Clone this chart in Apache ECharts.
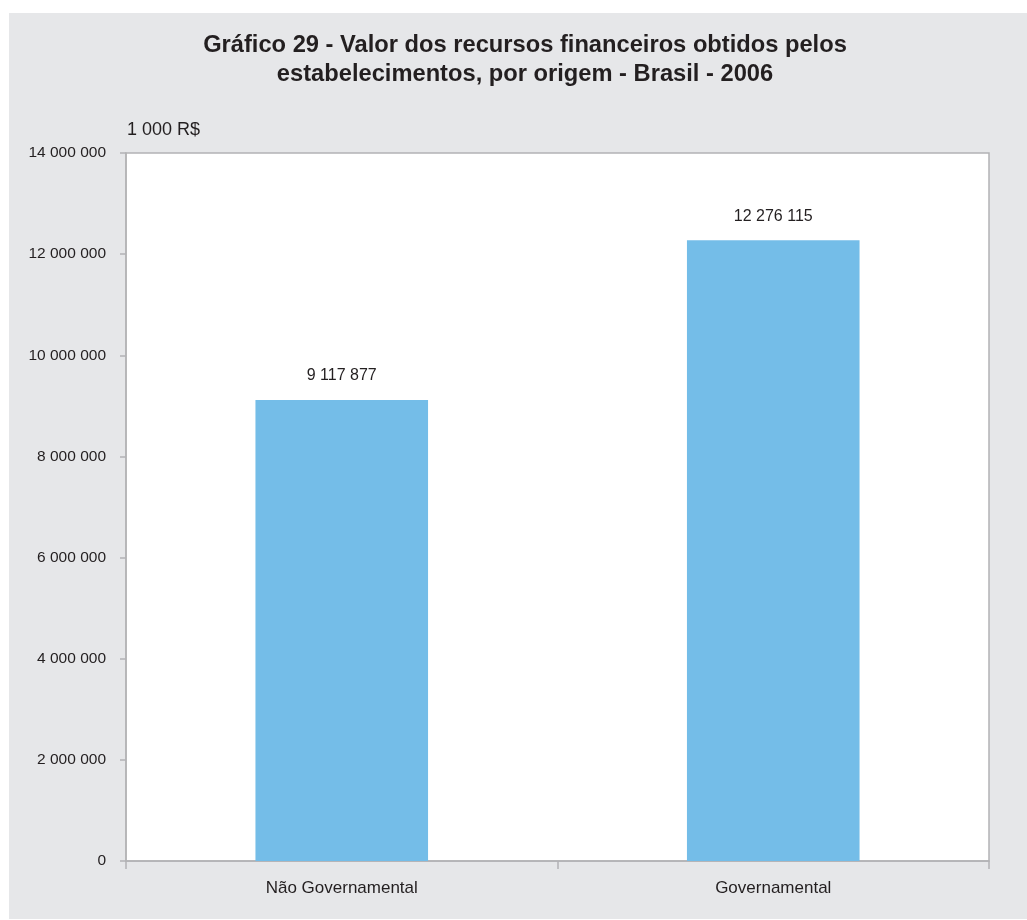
<!DOCTYPE html>
<html>
<head>
<meta charset="utf-8">
<script src="https://cdn.jsdelivr.net/npm/echarts@6/dist/echarts.min.js"></script>
<style>
  html, body { margin: 0; padding: 0; background: #fff; }
  #chart {
    position: absolute;
    left: 9px;
    top: 13px;
    width: 1018px;
    height: 906px;
    background: #e6e7e9;
  }
</style>
</head>
<body>
<div id="chart"></div>
<script>
// dados
const categories = ['Não Governamental', 'Governamental'];
const values = [9117877, 12276115];
const titleLines = [
  'Gráfico 29 - Valor dos recursos financeiros obtidos pelos',
  'estabelecimentos, por origem - Brasil - 2006',
];
const unitLabel = '1 000 R$';

const textColor = '#231f20';
const axisColor = '#b3b3b5';
const font = 'Liberation Sans, Arial, sans-serif';

// 12276115 -> "12 276 115"
const fmt = (v) => String(v).replace(/\B(?=(\d{3})+(?!\d))/g, ' ');

const chart = echarts.init(document.getElementById('chart'));

const option = {
  backgroundColor: '#e6e7e9',
  textStyle: { fontFamily: font, color: textColor },
  title: {
    text: titleLines.join('\n'),
    left: 511,
    top: 13,
    textAlign: 'center',
    textStyle: {
      fontSize: 23.7,
      fontWeight: 'bold',
      lineHeight: 29,
      color: textColor,
      fontFamily: font,
    },
  },
  graphic: [
    {
      type: 'text',
      left: 118,
      top: 108,
      style: {
        text: unitLabel,
        fontSize: 18,
        fill: textColor,
        fontFamily: font,
      },
    },
  ],
  grid: {
    left: 117,
    right: 38,
    top: 140,
    bottom: 58,
    show: true,
    backgroundColor: '#ffffff',
    borderColor: axisColor,
    borderWidth: 1.5,
  },
  xAxis: {
    type: 'category',
    data: categories,
    axisLine: { lineStyle: { color: axisColor, width: 1.5 } },
    axisTick: { show: true, length: 8, lineStyle: { color: axisColor, width: 1.5 } },
    axisLabel: { color: textColor, fontSize: 17, margin: 19 },
  },
  yAxis: {
    type: 'value',
    min: 0,
    max: 14000000,
    interval: 2000000,
    axisLine: { show: true, lineStyle: { color: axisColor, width: 1.5 } },
    axisTick: { show: true, length: 6, lineStyle: { color: axisColor, width: 1.5 } },
    splitLine: { show: false },
    axisLabel: {
      color: textColor,
      fontSize: 15.5,
      margin: 20,
      formatter: (v) => fmt(v),
    },
  },
  series: [
    {
      type: 'bar',
      data: values,
      barWidth: '40%',
      itemStyle: { color: '#74bde8' },
      label: {
        show: true,
        position: 'top',
        distance: 16,
        fontSize: 16,
        color: textColor,
        formatter: (p) => fmt(p.value),
      },
    },
  ],
};

chart.setOption(option);
</script>
</body>
</html>
